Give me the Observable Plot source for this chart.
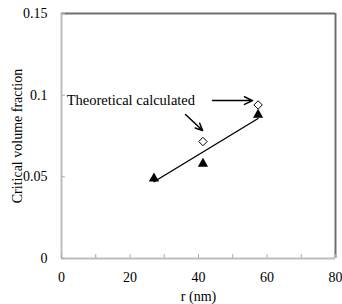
<!DOCTYPE html>
<html>
<head>
<meta charset="utf-8">
<script src="https://cdn.jsdelivr.net/npm/d3@7"></script>
<script src="https://cdn.jsdelivr.net/npm/@observablehq/plot@0.6"></script>
<style>
  html, body { margin: 0; padding: 0; background: #fff; }
  #chart svg { display: block; }
  #chart svg text { font-family: 'Liberation Serif', 'Times New Roman', serif !important; }
</style>
</head>
<body>
<div id="chart"></div>
<script>
// Measured critical volume fraction vs particle radius
const measuredR = [27, 41.3, 57.4];
const measuredPhi = [0.049, 0.058, 0.088];

// Theoretical calculated values
const theoryR = [41.3, 57.4];
const theoryPhi = [0.0716, 0.094];

// Linear trend through the measured points
const trendR = [27, 57.4];
const trendPhi = [0.047, 0.0857];

// Annotation label and its arrows
const noteText = ["Theoretical calculated"];
const noteR = [1.5];
const notePhi = [0.0967];
const arrowR1 = [44.1, 36.2];
const arrowPhi1 = [0.0967, 0.0882];
const arrowR2 = [55.8, 41.2];
const arrowPhi2 = [0.0967, 0.0784];

const xTicks = [0, 10, 20, 30, 40, 50, 60, 70, 80];
const xLabels = [0, 20, 40, 60, 80];
const yTicks = [0, 0.05, 0.1, 0.15];

const measured = measuredR.map((r, i) => ({r, phi: measuredPhi[i]}));
const theory = theoryR.map((r, i) => ({r, phi: theoryPhi[i]}));
const trend = trendR.map((r, i) => ({r, phi: trendPhi[i]}));
const arrows = arrowR1.map((r1, i) => ({r1, p1: arrowPhi1[i], r2: arrowR2[i], p2: arrowPhi2[i]}));
const notes = noteText.map((t, i) => ({t, r: noteR[i], phi: notePhi[i]}));

const serif = "'Liberation Serif', 'Times New Roman', serif";

const chart = Plot.plot({
  width: 342,
  height: 304,
  marginLeft: 61,
  marginRight: 7,
  marginTop: 13,
  marginBottom: 46,
  style: {fontFamily: serif, fontSize: "14px", color: "#000", background: "#fff"},
  x: {domain: [0, 80]},
  y: {domain: [0, 0.15]},
  marks: [
    // plot area border: dark on top and right, light axes on left and bottom
    Plot.ruleY([0.15], {stroke: "#6e6e6e", strokeWidth: 2}),
    Plot.ruleX([80], {stroke: "#6e6e6e", strokeWidth: 2}),
    Plot.ruleY([0], {stroke: "#bdbdbd", strokeWidth: 2}),
    Plot.ruleX([0], {stroke: "#bdbdbd", strokeWidth: 2}),
    // inward tick marks
    Plot.axisX({ticks: xTicks, tickSize: -4, tickFormat: () => "", stroke: "#aaa", label: null}),
    Plot.axisY({ticks: yTicks, tickSize: -4, tickFormat: () => "", stroke: "#aaa", label: null}),
    // tick labels and axis titles
    Plot.axisX({ticks: xLabels, tickSize: 0, tickPadding: 14, fontSize: 14, fontFamily: serif, label: "r (nm)", labelAnchor: "center", labelArrow: "none", labelOffset: 42}),
    Plot.axisY({ticks: yTicks, tickSize: 0, tickPadding: 14, fontSize: 14, fontFamily: serif, tickFormat: d => String(d), label: "Critical volume fraction", labelAnchor: "center", labelArrow: "none", labelOffset: 49}),
    // trend line and points
    Plot.line(trend, {x: "r", y: "phi", stroke: "#000", strokeWidth: 1.4}),
    Plot.dot(measured, {x: "r", y: "phi", symbol: "triangle", r: 3.8, fill: "#000", stroke: "none"}),
    Plot.dot(theory, {x: "r", y: "phi", symbol: "diamond2", r: 3.8, fill: "#fff", stroke: "#000", strokeWidth: 1}),
    // annotation
    Plot.arrow(arrows, {x1: "r1", y1: "p1", x2: "r2", y2: "p2", stroke: "#000", strokeWidth: 1.5, headLength: 9, headAngle: 50}),
    Plot.text(notes, {x: "r", y: "phi", text: "t", textAnchor: "start", lineAnchor: "middle", fontSize: 14.5, fontFamily: serif, fill: "#000"})
  ]
});

document.getElementById("chart").appendChild(chart);
</script>
</body>
</html>
